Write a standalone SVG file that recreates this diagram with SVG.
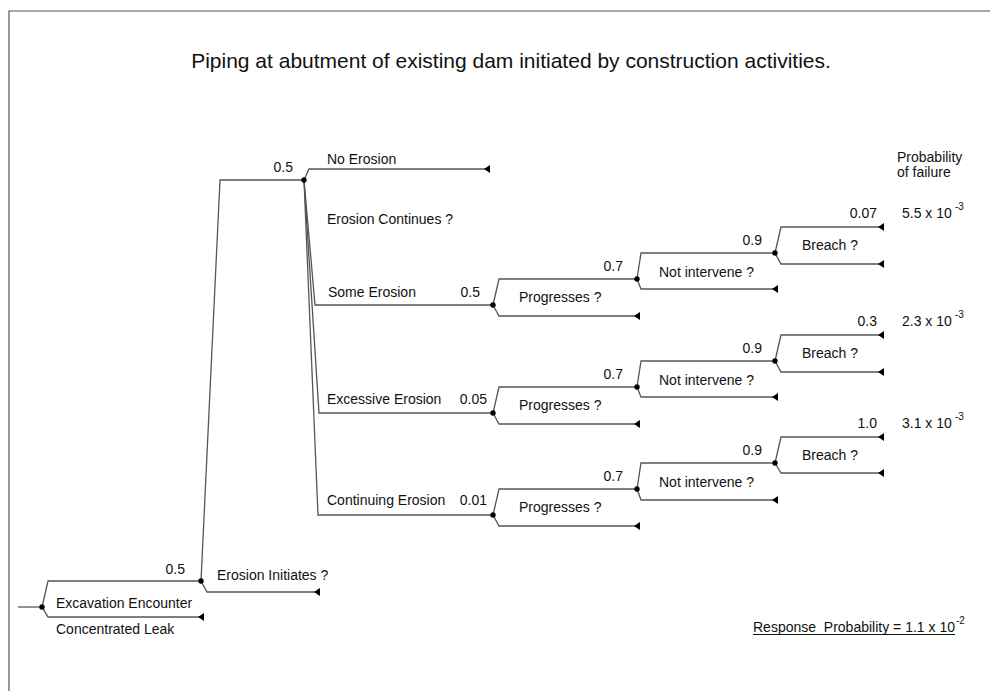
<svg xmlns="http://www.w3.org/2000/svg" width="990" height="691" viewBox="0 0 990 691">
<defs>
<style>
text{font-family:"Liberation Sans",Arial,sans-serif;font-size:14px;fill:#111;}
.t{font-size:21px;}
.sup{font-size:10px;}
.e{text-anchor:end;}
.ln{fill:none;stroke:#555;stroke-width:1.3;}
.frame{fill:none;stroke:#555;stroke-width:1.2;}
.dot{fill:#000;}
</style>
<marker id="ah" viewBox="0 0 6 8" refX="6" refY="4" markerWidth="6" markerHeight="8" markerUnits="userSpaceOnUse" orient="auto">
<path d="M6,0 L0,4 L6,8 z" fill="#000"/>
</marker>
</defs>
<rect width="990" height="691" fill="#fff"/>
<path class="frame" d="M9,691 V11 H990"/>
<text class="t" x="511" y="68" text-anchor="middle">Piping at abutment of existing dam initiated by construction activities.</text>
<text x="897" y="162">Probability</text>
<text x="897" y="177">of failure</text>

<g id="connectors">
<path class="ln" d="M18,607 H42"/>
<path class="ln" d="M42,607 L48,581 H201"/>
<path class="ln" d="M42,607 L48,617 H204" marker-end="url(#ah)"/>
<path class="ln" d="M201,581 L220,180 H304"/>
<path class="ln" d="M201,581 L207,592 H320" marker-end="url(#ah)"/>
<path class="ln" d="M304,180 L309,169 H490" marker-end="url(#ah)"/>
<path class="ln" d="M304,180 L315,305 H493"/>
<path class="ln" d="M304,180 L319,413 H493"/>
<path class="ln" d="M304,180 L318,515 H493"/>
<!-- chain 1 -->
<path class="ln" d="M493,305 L499,279 H637"/>
<path class="ln" d="M493,305 L499,316 H640" marker-end="url(#ah)"/>
<path class="ln" d="M637,279 L641,253 H775"/>
<path class="ln" d="M637,279 L641,289 H778" marker-end="url(#ah)"/>
<path class="ln" d="M775,253 L781,227 H884" marker-end="url(#ah)"/>
<path class="ln" d="M775,253 L781,264 H884" marker-end="url(#ah)"/>
<!-- chain 2 -->
<path class="ln" d="M493,413 L499,387 H637"/>
<path class="ln" d="M493,413 L499,424 H640" marker-end="url(#ah)"/>
<path class="ln" d="M637,387 L641,361 H775"/>
<path class="ln" d="M637,387 L641,397 H778" marker-end="url(#ah)"/>
<path class="ln" d="M775,361 L781,335 H884" marker-end="url(#ah)"/>
<path class="ln" d="M775,361 L781,372 H884" marker-end="url(#ah)"/>
<!-- chain 3 -->
<path class="ln" d="M493,515 L499,489 H637"/>
<path class="ln" d="M493,515 L499,526 H640" marker-end="url(#ah)"/>
<path class="ln" d="M637,489 L641,463 H775"/>
<path class="ln" d="M637,489 L641,500 H778" marker-end="url(#ah)"/>
<path class="ln" d="M775,463 L781,437 H884" marker-end="url(#ah)"/>
<path class="ln" d="M775,463 L781,473 H884" marker-end="url(#ah)"/>
</g>

<g id="node-root">
<circle class="dot" cx="42" cy="607" r="2.7"/>
<text x="56" y="608">Excavation Encounter</text>
<text x="56" y="634">Concentrated Leak</text>
<text class="e" x="185" y="574">0.5</text>
</g>
<g id="node-initiates">
<circle class="dot" cx="201" cy="581" r="2.7"/>
<text x="217" y="580">Erosion Initiates ?</text>
<text class="e" x="293" y="172">0.5</text>
</g>
<g id="node-continues">
<circle class="dot" cx="304" cy="180" r="2.7"/>
<text x="327" y="164">No Erosion</text>
<text x="327" y="224">Erosion Continues ?</text>
<text x="328" y="297">Some Erosion</text>
<text class="e" x="480" y="297">0.5</text>
<text x="327" y="404">Excessive Erosion</text>
<text class="e" x="487" y="404">0.05</text>
<text x="327" y="505">Continuing Erosion</text>
<text class="e" x="487" y="505">0.01</text>
</g>

<g id="node-progress-1">
<circle class="dot" cx="493" cy="305" r="2.7"/>
<text x="519" y="302">Progresses ?</text>
<text class="e" x="623" y="271">0.7</text>
</g>
<g id="node-intervene-1">
<circle class="dot" cx="637" cy="279" r="2.7"/>
<text x="659" y="277">Not intervene ?</text>
<text class="e" x="762" y="245">0.9</text>
</g>
<g id="node-breach-1">
<circle class="dot" cx="775" cy="253" r="2.7"/>
<text x="802" y="250">Breach ?</text>
<text class="e" x="877" y="218">0.07</text>
<text x="902" y="218">5.5 x 10</text>
<text class="sup" x="955" y="210">-3</text>
</g>

<g id="node-progress-2">
<circle class="dot" cx="493" cy="413" r="2.7"/>
<text x="519" y="410">Progresses ?</text>
<text class="e" x="623" y="379">0.7</text>
</g>
<g id="node-intervene-2">
<circle class="dot" cx="637" cy="387" r="2.7"/>
<text x="659" y="385">Not intervene ?</text>
<text class="e" x="762" y="353">0.9</text>
</g>
<g id="node-breach-2">
<circle class="dot" cx="775" cy="361" r="2.7"/>
<text x="802" y="358">Breach ?</text>
<text class="e" x="877" y="326">0.3</text>
<text x="902" y="326">2.3 x 10</text>
<text class="sup" x="955" y="318">-3</text>
</g>

<g id="node-progress-3">
<circle class="dot" cx="493" cy="515" r="2.7"/>
<text x="519" y="512">Progresses ?</text>
<text class="e" x="623" y="481">0.7</text>
</g>
<g id="node-intervene-3">
<circle class="dot" cx="637" cy="489" r="2.7"/>
<text x="659" y="487">Not intervene ?</text>
<text class="e" x="762" y="455">0.9</text>
</g>
<g id="node-breach-3">
<circle class="dot" cx="775" cy="463" r="2.7"/>
<text x="802" y="460">Breach ?</text>
<text class="e" x="877" y="428">1.0</text>
<text x="902" y="428">3.1 x 10</text>
<text class="sup" x="955" y="420">-3</text>
</g>

<g id="response">
<text x="753" y="632" style="white-space:pre">Response  Probability = 1.1 x 10</text>
<line x1="753" y1="634.5" x2="955" y2="634.5" stroke="#111" stroke-width="1"/>
<text class="sup" x="956" y="624">-2</text>
</g>
</svg>
